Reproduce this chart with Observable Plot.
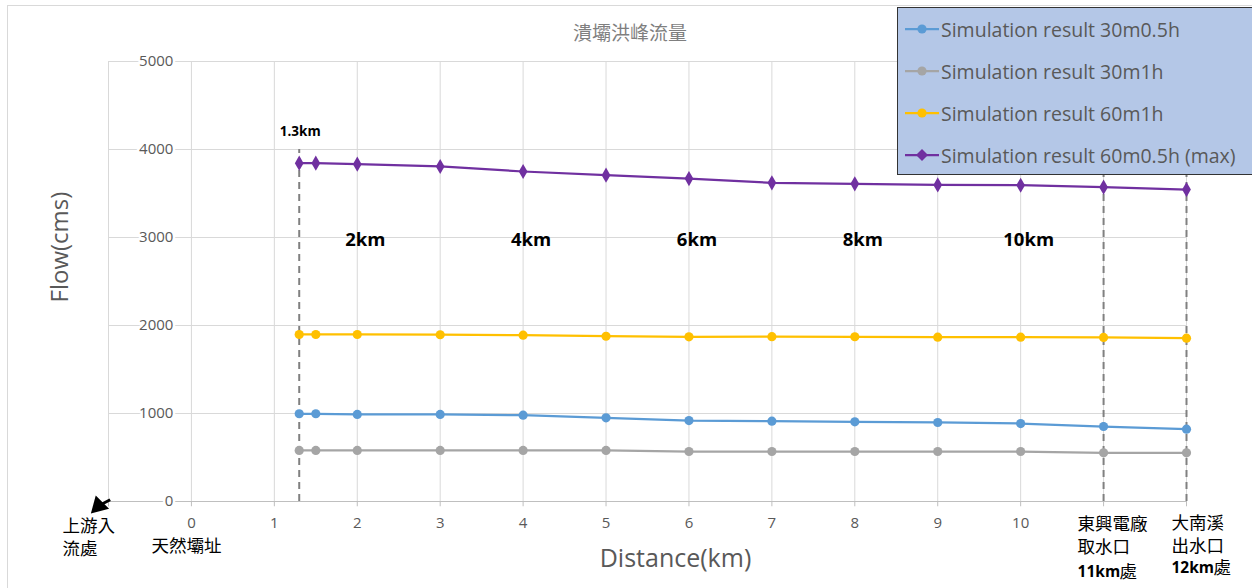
<!DOCTYPE html>
<html>
<head>
<meta charset="utf-8">
<script src="https://cdn.jsdelivr.net/npm/d3@7"></script>
<script src="https://cdn.jsdelivr.net/npm/@observablehq/plot@0.6"></script>
<style>
  body { margin: 0; background: #fff; }
  #wrap { position: relative; width: 1252px; height: 588px; overflow: hidden; font-family: "Open Sans", "Noto Sans", sans-serif; }
  #border { position: absolute; left: 7px; top: 5px; width: 1270px; height: 620px; border: 1px solid #d9d9d9; }
  #chart { position: absolute; left: 0; top: 0; }
  #title { position: absolute; left: 0; top: 18px; width: 1260px; text-align: center; font-family: "Noto Sans CJK TC", sans-serif; font-size: 19px; color: #7f7f7f; line-height: 28px; }
  #legend { position: absolute; left: 897px; top: 7px; width: 380px; height: 166px; background: #b4c7e7; border: 1.5px solid #333; }
  .item { position: absolute; left: 7px; height: 26px; display: flex; align-items: center; font-size: 19.5px; color: #595959; white-space: nowrap; }
  .item svg { margin-right: 2px; }
</style>
</head>
<body>
<div id="wrap">
  <div id="border"></div>
  <div id="chart"></div>
  <div id="title">潰壩洪峰流量</div>
  <div id="legend"></div>
</div>
<script>
// Distance along the river (km) at which the peak flow was computed
const distance = [1.3, 1.5, 2, 3, 4, 5, 6, 7, 8, 9, 10, 11, 12];

// Peak flow (cms) for each simulated scenario
const flow30m05h = [997, 997, 989, 989, 981, 951, 920, 913, 905, 898, 886, 852, 822];
const flow30m1h  = [580, 580, 580, 580, 580, 580, 568, 568, 568, 568, 568, 553, 553];
const flow60m1h  = [1898, 1898, 1898, 1895, 1890, 1878, 1871, 1873, 1872, 1867, 1867, 1864, 1856];
const flow60m05h = [3845, 3845, 3833, 3807, 3750, 3708, 3670, 3621, 3610, 3598, 3594, 3572, 3545];

const seriesNames = [
  "Simulation result 30m0.5h",
  "Simulation result 30m1h",
  "Simulation result 60m1h",
  "Simulation result 60m0.5h (max)"
];
const seriesValues = [flow30m05h, flow30m1h, flow60m1h, flow60m05h];
const seriesColors = ["#5b9bd5", "#a5a5a5", "#ffc000", "#7030a0"];
const seriesSymbols = ["circle", "circle", "circle", "diamond"];

// Axis ticks
const xGrid = [-1, 0, 1, 2, 3, 4, 5, 6, 7, 8, 9, 10, 11, 12];
const xTickLabels = [0, 1, 2, 3, 4, 5, 6, 7, 8, 9, 10];
const yTicks = [0, 1000, 2000, 3000, 4000, 5000];

// Reference sections marked with dashed lines
const markers = [1.3, 11, 12];
const markerTop = 4000;

// Distance annotations inside the plot
const kmNotes = ["2km", "4km", "6km", "8km", "10km"];
const kmNoteX = [2, 4, 6, 8, 10];
const kmNoteFlow = 2966;
const firstNote = "1.3km";
const firstNoteFlow = 4205;

// Place names under the axis
const upstreamLines = ["上游入", "流處"];
const damSite = "天然壩址";
const intakeLines = ["東興電廠", "取水口"];
const outletLines = ["大南溪", "出水口"];

const rows = seriesNames.flatMap((name, i) =>
  distance.map((d, j) => ({ series: name, distance: d, flow: seriesValues[i][j] }))
);

const grey = "#595959";
const cjk = "'Noto Sans CJK TC', sans-serif";
const place = { fontFamily: cjk, fontSize: 17.5, fill: "#000", text: d => d };

const chart = Plot.plot({
  width: 1252,
  height: 588,
  marginLeft: 108,
  marginRight: 66,
  marginTop: 61,
  marginBottom: 87,
  style: { fontFamily: "'Open Sans', sans-serif", background: "transparent", overflow: "visible" },
  x: { domain: [-1, 12], axis: null },
  y: { domain: [0, 5000], axis: null },
  color: { domain: seriesNames, range: seriesColors },
  symbol: { domain: seriesNames, range: seriesSymbols },
  marks: [
    // gridlines
    Plot.ruleX(xGrid, { y1: 0, y2: 5000, stroke: "#d9d9d9", strokeWidth: 1 }),
    Plot.ruleY(yTicks.slice(1), { x1: -1, x2: 12, stroke: "#d9d9d9", strokeWidth: 1 }),
    Plot.ruleY([0], { x1: -1, x2: 12, stroke: "#bfbfbf", strokeWidth: 1.2 }),
    Plot.ruleX(xGrid, { y1: 0, y2: -60, stroke: "#bfbfbf", strokeWidth: 1 }),
    // dashed section markers
    Plot.ruleX(markers, { y1: 0, y2: markerTop, stroke: "#808080", strokeWidth: 2, strokeDasharray: "7,5" }),
    // series
    Plot.line(rows, { x: "distance", y: "flow", z: "series", stroke: "series", strokeWidth: 2.25 }),
    Plot.dot(rows, { x: "distance", y: "flow", fill: "series", symbol: "series", r: 4.6, stroke: "none" }),
    // y tick labels, drawn beside the axis at x = 0
    Plot.text(yTicks, { x: 0, y: d => d, dx: -18, textAnchor: "end", text: d => String(d),
      fontSize: 15, fill: grey, stroke: "white", strokeWidth: 5, paintOrder: "stroke" }),
    // x tick labels
    Plot.text(xTickLabels, { x: d => d, y: 0, dy: 22, text: d => String(d), fontSize: 15, fill: grey }),
    // axis titles
    Plot.text(["Flow(cms)"], { frameAnchor: "left", dx: -48, dy: 21, rotate: -90, fontSize: 24, fill: grey }),
    Plot.text(["Distance(km)"], { frameAnchor: "bottom", lineAnchor: "middle", dx: 28, dy: 57, fontSize: 25, fill: grey }),
    // distance annotations
    Plot.text(kmNotes, { x: (d, i) => kmNoteX[i], y: kmNoteFlow, dx: 8, text: d => d,
      fontSize: 18.5, fontWeight: "bold", fill: "#000" }),
    Plot.text([firstNote], { x: 1.3, y: firstNoteFlow, dx: 1, text: d => d, fontSize: 13.5, fontWeight: "bold", fill: "#000" }),
    // arrow pointing upstream
    Plot.link([0], { x1: -0.98, y1: 20, x2: -1.1, y2: -40, stroke: "#000", strokeWidth: 3 }),
    Plot.dot([0], { x: -1.12, y: -50, symbol: "triangle", r: 7, fill: "#000", rotate: -135 }),
    // place names under the axis
    Plot.text([upstreamLines[0]], { ...place, x: -1, y: 0, dx: -46, dy: 25, textAnchor: "start" }),
    Plot.text([upstreamLines[1]], { ...place, x: -1, y: 0, dx: -46, dy: 48, textAnchor: "start" }),
    Plot.text([damSite], { ...place, x: 0, y: 0, dx: -5, dy: 45 }),
    Plot.text([intakeLines[0]], { ...place, x: 11, y: 0, dx: -26, dy: 23, textAnchor: "start" }),
    Plot.text([intakeLines[1]], { ...place, x: 11, y: 0, dx: -26, dy: 46, textAnchor: "start" }),
    Plot.text(["11km"], { x: 11, y: 0, dx: -26, dy: 71, text: d => d, textAnchor: "start", fontSize: 15.5, fontWeight: "bold", fill: "#000" }),
    Plot.text(["處"], { ...place, x: 11, y: 0, dx: 16, dy: 71, textAnchor: "start" }),
    Plot.text([outletLines[0]], { ...place, x: 12, y: 0, dx: -15, dy: 22, textAnchor: "start" }),
    Plot.text([outletLines[1]], { ...place, x: 12, y: 0, dx: -15, dy: 45, textAnchor: "start" }),
    Plot.text(["12km"], { x: 12, y: 0, dx: -15, dy: 67, text: d => d, textAnchor: "start", fontSize: 15.5, fontWeight: "bold", fill: "#000" }),
    Plot.text(["處"], { ...place, x: 12, y: 0, dx: 27, dy: 67, textAnchor: "start" })
  ]
});
document.getElementById("chart").append(chart);

// legend: line + marker swatch for each series
const legend = document.getElementById("legend");
seriesNames.forEach((name, i) => {
  const item = document.createElement("div");
  item.className = "item";
  item.style.top = (8 + i * 42) + "px";
  const marker = seriesSymbols[i] === "diamond"
    ? `<path d="M17,1 L23,7 L17,13 L11,7 Z" fill="${seriesColors[i]}"/>`
    : `<circle cx="17" cy="7" r="4.6" fill="${seriesColors[i]}"/>`;
  item.innerHTML = `<svg width="34" height="14"><line x1="0" y1="7" x2="34" y2="7" stroke="${seriesColors[i]}" stroke-width="2.25"/>${marker}</svg><span>${name}</span>`;
  legend.append(item);
});
</script>
</body>
</html>
